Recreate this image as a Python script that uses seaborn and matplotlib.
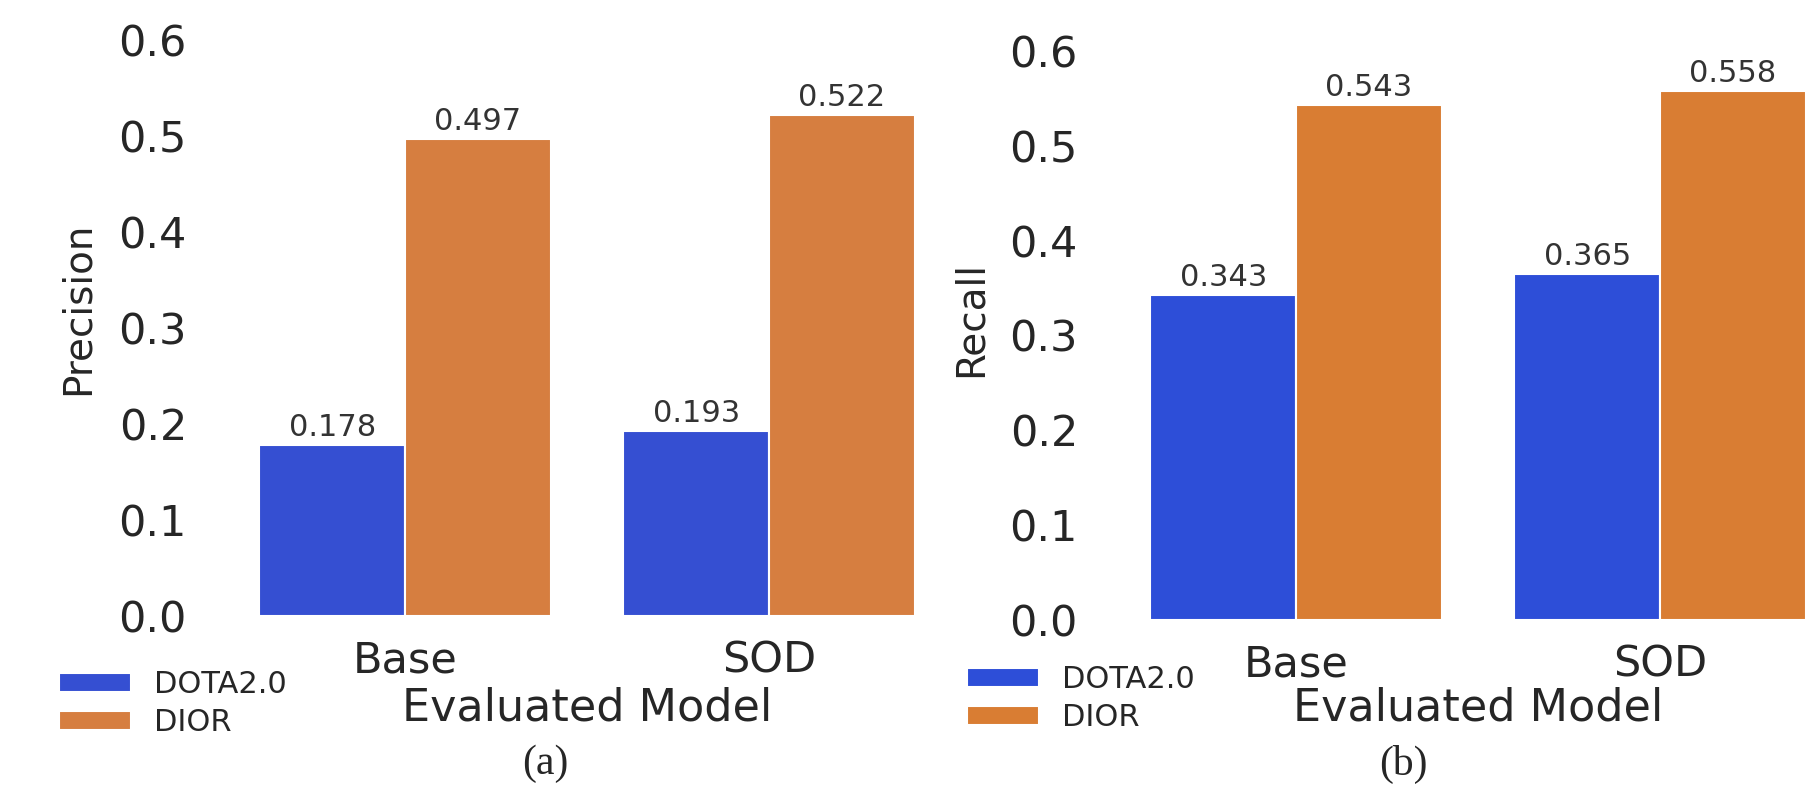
import matplotlib
matplotlib.use('Agg')
import matplotlib.pyplot as plt
import seaborn as sns
import pandas as pd

models = ['Base', 'SOD']
datasets = ['DOTA2.0', 'DIOR']
precision_dota = [0.178, 0.193]
precision_dior = [0.497, 0.522]
recall_dota = [0.343, 0.365]
recall_dior = [0.543, 0.558]
yticks = [0.0, 0.1, 0.2, 0.3, 0.4, 0.5, 0.6]

sns.set_style('white')
plt.rcParams['font.family'] = ['DejaVu Sans']

W, H = 1806, 788
fig = plt.figure(figsize=(W / 100, H / 100), dpi=100)


def make_df(dota, dior):
    rows = []
    for m, a, b in zip(models, dota, dior):
        rows.append({'model': m, 'dataset': datasets[0], 'value': a})
        rows.append({'model': m, 'dataset': datasets[1], 'value': b})
    return pd.DataFrame(rows)


def panel(rect_px, dota, dior, ylabel, colors, ylab_pos, leg_pos, caption_pos, caption):
    # rect_px: left, top, right, bottom in pixels
    l, t, r, b = rect_px
    ax = fig.add_axes([l / W, 1 - b / H, (r - l) / W, (b - t) / H])
    df = make_df(dota, dior)
    sns.barplot(data=df, x='model', y='value', hue='dataset', palette=colors,
                saturation=1, edgecolor='white', linewidth=1.5, ax=ax,
                errorbar=None)
    for c in ax.containers:
        ax.bar_label(c, fmt='%.3f', fontsize=22, color='0.2', padding=2)
    ax.set_xlim(-0.5, 1.5)
    ax.set_ylim(0, 0.6)
    ax.set_yticks(yticks)
    ax.set_yticklabels([f'{v:.1f}' for v in yticks])
    ax.tick_params(axis='y', labelsize=31, length=0, pad=26, colors='0.15')
    ax.tick_params(axis='x', labelsize=31, length=0, pad=17, colors='0.15')
    sns.despine(ax=ax, left=True, bottom=True)
    ax.set_xlabel('Evaluated Model', fontsize=32, color='0.15')
    ax.xaxis.set_label_coords(0.5, -(708 - b) / (b - t))
    ax.xaxis.label.set_va('center')
    ax.set_ylabel(ylabel, fontsize=28, color='0.15')
    ax.yaxis.set_label_coords((ylab_pos[0] - l) / (r - l), (b - ylab_pos[1]) / (b - t))
    ax.yaxis.label.set_va('center')
    ax.legend(loc='upper left', bbox_to_anchor=(leg_pos[0] / W, 1 - leg_pos[1] / H),
              bbox_transform=fig.transFigure, frameon=False, fontsize=22,
              handlelength=2.35, handleheight=0.6, handletextpad=0.75,
              labelspacing=0.3, borderpad=0, borderaxespad=0,
              labelcolor='0.15')
    fig.text(caption_pos[0] / W, 1 - caption_pos[1] / H, caption,
             family='Liberation Serif', fontsize=30, ha='center', va='center')
    return ax


panel((223, 40, 951, 616), precision_dota, precision_dior, 'Precision',
      ['#354fd2', '#d67e40'], (78, 308), (59, 670), (545, 764), '(a)')
panel((1114, 51, 1842, 620), recall_dota, recall_dior, 'Recall',
      ['#2d4ed8', '#d97d33'], (971, 319), (967, 665), (1403, 764), '(b)')

fig.savefig('out.png', dpi=100)
